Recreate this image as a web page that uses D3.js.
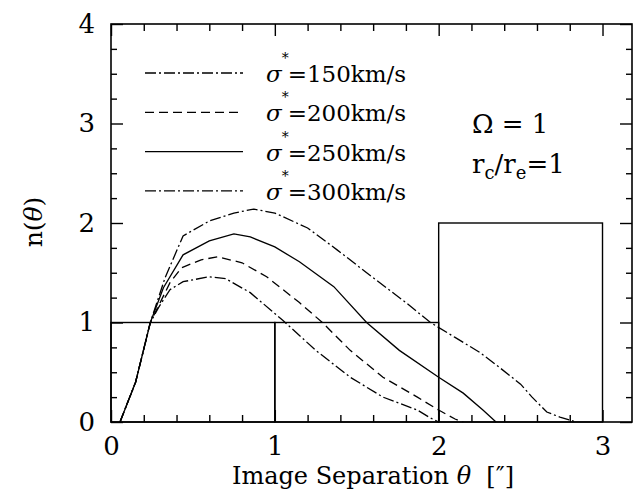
<!DOCTYPE html>
<html>
<head>
<meta charset="utf-8">
<script src="https://cdn.jsdelivr.net/npm/d3@7"></script>
<style>
  body { margin: 0; background: #fff; }
  svg text { font-family: "DejaVu Serif", "Liberation Serif", serif; fill: #000; }
</style>
</head>
<body>
<svg id="chart" width="634" height="495"></svg>
<script>
// histogram of observed separations
var binEdges = [0, 1, 2, 3];
var binCounts = [1, 1, 2];

// model curves n(theta), one per velocity dispersion
var sigmaLabels = ['150', '200', '250', '300'];

var theta150 = [0.055, 0.15, 0.24, 0.29, 0.36, 0.44, 0.6, 0.7, 0.85, 1.05, 1.25, 1.46, 1.66, 1.87, 1.95, 2.0];
var n150     = [0, 0.4, 1.0, 1.15, 1.33, 1.41, 1.46, 1.44, 1.30, 1.02, 0.72, 0.45, 0.25, 0.12, 0.04, 0];

var theta200 = [0.055, 0.15, 0.24, 0.3, 0.36, 0.43, 0.55, 0.65, 0.8, 0.95, 1.15, 1.29, 1.46, 1.66, 1.87, 2.0, 2.1, 2.15];
var n200     = [0, 0.4, 1.0, 1.2, 1.4, 1.55, 1.63, 1.66, 1.6, 1.46, 1.2, 1.0, 0.72, 0.45, 0.25, 0.12, 0.03, 0];

var theta250 = [0.055, 0.15, 0.24, 0.32, 0.44, 0.6, 0.75, 0.85, 1.0, 1.15, 1.36, 1.56, 1.76, 2.0, 2.15, 2.27, 2.35];
var n250     = [0, 0.4, 1.0, 1.35, 1.68, 1.82, 1.89, 1.86, 1.76, 1.61, 1.36, 1.0, 0.72, 0.45, 0.29, 0.12, 0];

var theta300 = [0.055, 0.15, 0.24, 0.33, 0.44, 0.6, 0.75, 0.87, 1.0, 1.2, 1.38, 1.6, 1.8, 1.95, 2.1, 2.25, 2.37, 2.5, 2.57, 2.66, 2.74, 2.84];
var n300     = [0, 0.4, 1.0, 1.45, 1.87, 2.02, 2.1, 2.14, 2.1, 1.95, 1.73, 1.45, 1.2, 1.0, 0.85, 0.70, 0.55, 0.38, 0.25, 0.10, 0.05, 0];

var xMajor = [0, 1, 2, 3];
var yMajor = [0, 1, 2, 3, 4];

var series = [
  {label: sigmaLabels[0], x: theta150, y: n150, dash: '11,3,2,3'},
  {label: sigmaLabels[1], x: theta200, y: n200, dash: '9,5'},
  {label: sigmaLabels[2], x: theta250, y: n250, dash: null},
  {label: sigmaLabels[3], x: theta300, y: n300, dash: '11,3,2,3'}
];

var svg = d3.select('#chart');

var x = d3.scaleLinear().domain([0, 3.18]).range([111, 632]);
var y = d3.scaleLinear().domain([0, 4]).range([422, 24]);

var xMinor = d3.range(0, 3.19, 0.2).filter(function(v) { return Math.abs(v - Math.round(v)) > 0.01; });
var yMinor = d3.range(0, 4.01, 0.25).filter(function(v) { return Math.abs(v - Math.round(v)) > 0.01; });

// frame
svg.append('rect')
  .attr('x', x(0)).attr('y', y(4))
  .attr('width', x(3.18) - x(0)).attr('height', y(0) - y(4))
  .attr('fill', 'none').attr('stroke', '#000').attr('stroke-width', 1.6);

var addAxis = function(axis, tr, vals, size, labels) {
  var g = svg.append('g').attr('transform', tr)
    .call(axis.tickValues(vals).tickSize(size).tickSizeOuter(0)
      .tickFormat(labels ? d3.format('d') : ''));
  g.select('.domain').remove();
  g.selectAll('line').attr('stroke', '#000').attr('stroke-width', 1.4);
  g.selectAll('text').style('font-size', '26px').attr('fill', '#000');
  return g;
};

// bottom, top, left, right - ticks pointing inward
addAxis(d3.axisBottom(x).tickPadding(15), 'translate(0,' + y(0) + ')', xMajor, -12, true);
addAxis(d3.axisBottom(x), 'translate(0,' + y(0) + ')', xMinor, -7, false);
addAxis(d3.axisTop(x), 'translate(0,' + y(4) + ')', xMajor, -12, false);
addAxis(d3.axisTop(x), 'translate(0,' + y(4) + ')', xMinor, -7, false);
addAxis(d3.axisLeft(y).tickPadding(16), 'translate(' + x(0) + ',0)', yMajor, -12, true);
addAxis(d3.axisLeft(y), 'translate(' + x(0) + ',0)', yMinor, -6, false);
addAxis(d3.axisRight(y), 'translate(' + x(3.18) + ',0)', yMajor, -12, false);
addAxis(d3.axisRight(y), 'translate(' + x(3.18) + ',0)', yMinor, -6, false);

// histogram bins as open rectangles
var bins = binCounts.map(function(c, i) { return {x0: binEdges[i], x1: binEdges[i + 1], n: c}; });
svg.append('g').selectAll('rect')
  .data(bins)
  .enter().append('rect')
  .attr('x', function(d) { return x(d.x0); })
  .attr('y', function(d) { return y(d.n); })
  .attr('width', function(d) { return x(d.x1) - x(d.x0); })
  .attr('height', function(d) { return y(0) - y(d.n); })
  .attr('fill', 'none')
  .attr('stroke', '#000')
  .attr('stroke-width', 1.4);

// model curves
var line = d3.line()
  .x(function(d) { return x(d[0]); })
  .y(function(d) { return y(d[1]); });

svg.append('g').selectAll('path')
  .data(series)
  .enter().append('path')
  .attr('d', function(s) { return line(d3.zip(s.x, s.y)); })
  .attr('fill', 'none')
  .attr('stroke', '#000')
  .attr('stroke-width', 1.3)
  .attr('stroke-dasharray', function(s) { return s.dash; });

// legend
var leg = svg.append('g').selectAll('g')
  .data(series)
  .enter().append('g')
  .attr('transform', function(s, i) { return 'translate(0,' + (82 + i * 39.3) + ')'; });

leg.append('line')
  .attr('x1', 145).attr('x2', 243)
  .attr('y1', -9).attr('y2', -9)
  .attr('stroke', '#000')
  .attr('stroke-width', 1.3)
  .attr('stroke-dasharray', function(s) { return s.dash; });

var lt = leg.append('text')
  .attr('x', 266).attr('y', 0)
  .style('font-size', '23px');
lt.append('tspan').style('font-style', 'italic').text('σ');
lt.append('tspan').attr('dy', -19).style('font-size', '14px').text('*');
lt.append('tspan').attr('dy', 19).attr('dx', -1).text(function(s) { return '=' + s.label + 'km/s'; });

// model parameters
svg.append('text')
  .attr('x', 472).attr('y', 133)
  .style('font-size', '26px')
  .text('Ω = 1');
var rt = svg.append('text')
  .attr('x', 472).attr('y', 173)
  .style('font-size', '26px');
rt.append('tspan').text('r');
rt.append('tspan').attr('dy', 6).style('font-size', '18px').text('c');
rt.append('tspan').attr('dy', -6).text('/r');
rt.append('tspan').attr('dy', 6).style('font-size', '18px').text('e');
rt.append('tspan').attr('dy', -6).text('=1');

// axis titles
var xt = svg.append('text')
  .attr('x', 373).attr('y', 484)
  .attr('text-anchor', 'middle')
  .style('font-size', '24px');
xt.append('tspan').text('Image Separation ');
xt.append('tspan').style('font-style', 'italic').text('θ');
xt.append('tspan').text('\u00a0\u00a0[″]');

var yt = svg.append('text')
  .attr('transform', 'translate(42,222) rotate(-90)')
  .attr('text-anchor', 'middle')
  .style('font-size', '25px');
yt.append('tspan').text('n(');
yt.append('tspan').style('font-style', 'italic').text('θ');
yt.append('tspan').text(')');
</script>
</body>
</html>
